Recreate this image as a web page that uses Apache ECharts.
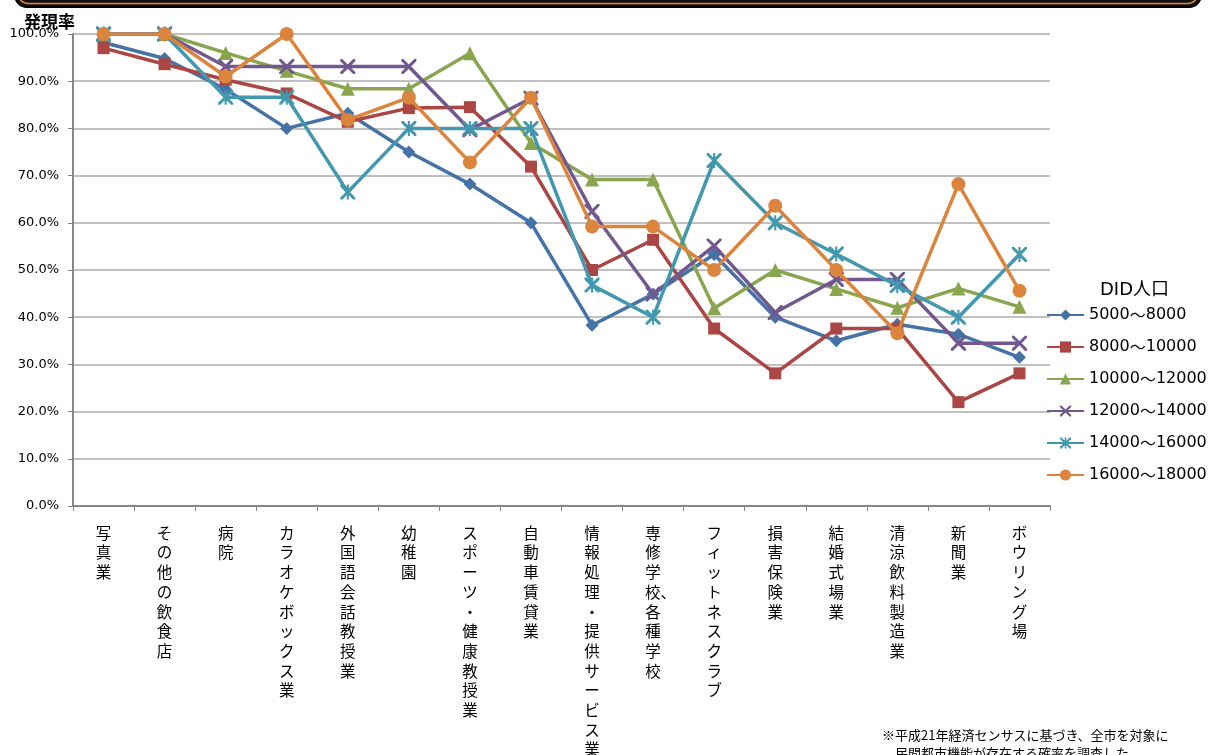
<!DOCTYPE html>
<html>
<head>
<meta charset="utf-8">
<script src="https://cdn.jsdelivr.net/npm/echarts@6/dist/echarts.min.js"></script>
<style>html,body{margin:0;padding:0;background:#fff;}#c{width:1216px;height:755px;}</style>
</head>
<body>
<div id="c"></div>
<script>
var categories = ['写真業','その他の飲食店','病院','カラオケボックス業','外国語会話教授業','幼稚園','スポーツ・健康教授業','自動車賃貸業','情報処理・提供サービス業','専修学校、各種学校','フィットネスクラブ','損害保険業','結婚式場業','清涼飲料製造業','新聞業','ボウリング場'];
var seriesNames = ['5000～8000','8000～10000','10000～12000','12000～14000','14000～16000','16000～18000'];
var s5000 = [98.2, 94.8, 88.3, 80.0, 83.2, 75.0, 68.2, 60.0, 38.3, 44.9, 53.3, 40.0, 35.0, 38.5, 36.4, 31.5];
var s8000 = [97.0, 93.6, 90.3, 87.4, 81.4, 84.3, 84.5, 71.9, 50.0, 56.4, 37.6, 28.1, 37.6, 37.6, 22.0, 28.1];
var s10000 = [100, 100, 96.0, 92.2, 88.4, 88.4, 95.9, 76.9, 69.2, 69.2, 41.9, 50.0, 46.0, 42.0, 46.1, 42.2];
var s12000 = [100, 100, 93.1, 93.1, 93.1, 93.1, 79.7, 86.4, 62.4, 44.9, 55.1, 41.0, 48.0, 48.0, 34.5, 34.5];
var s14000 = [100, 100, 86.6, 86.6, 66.5, 80.0, 80.0, 80.0, 46.8, 40.0, 73.2, 60.0, 53.4, 46.7, 40.0, 53.3];
var s16000 = [100, 100, 91.0, 100, 81.8, 86.5, 72.8, 86.5, 59.2, 59.2, 50.0, 63.6, 50.0, 36.6, 68.2, 45.6];
var yTicks = [0, 10, 20, 30, 40, 50, 60, 70, 80, 90, 100];

var colors = ['#4572A7','#AA4643','#89A54E','#71588F','#4198AF','#DB843D'];
var xPath = 'path://M0,0 L1.4,0 L10,8.6 L10,10 L8.6,10 L0,1.4 Z M10,0 L10,1.4 L1.4,10 L0,10 L0,8.6 L8.6,0 Z';
var starPath = 'path://M0,0 L1.4,0 L10,8.6 L10,10 L8.6,10 L0,1.4 Z M10,0 L10,1.4 L1.4,10 L0,10 L0,8.6 L8.6,0 Z M4.3,0 L5.7,0 L5.7,10 L4.3,10 Z';
var symbols = ['diamond','rect','triangle',xPath,starPath,'circle'];
var sizes = [13, 12, 14, 15, 15, 14];
var dataList = [s5000, s8000, s10000, s12000, s14000, s16000];

var chart = echarts.init(document.getElementById('c'), null, {renderer:'canvas'});
var series = dataList.map(function(d, i){
  return {
    name: seriesNames[i], type: 'line', data: d,
    symbol: symbols[i], symbolSize: sizes[i], showAllSymbol: true,
    lineStyle: {color: colors[i], width: 3.5},
    itemStyle: {color: colors[i]},
    z: 2 + i
  };
});
var jp = '"Noto Sans CJK JP", sans-serif';
var num = '"DejaVu Sans", sans-serif';
chart.setOption({
  animation: false,
  color: colors,
  title: {text: '発現率', left: 19, top: 8, textStyle: {fontFamily: jp, fontSize: 17, fontWeight: 'bold', color: '#000'}},
  grid: {left: 73, right: 166, top: 34, bottom: 249, containLabel: false, outerBoundsMode: 'none'},
  legend: {
    orient: 'vertical', left: 1041, top: 302, itemWidth: 37, itemHeight: 14, itemGap: 16,
    data: seriesNames,
    formatter: function(n){
      var p = n.split('～');
      return '{a|' + p[0] + '}{w|～}{a|' + p[1] + '}';
    },
    textStyle: {color: '#000', rich: {
      a: {fontFamily: num, fontSize: 16, color: '#000'},
      w: {fontFamily: jp, fontSize: 16, color: '#000'}
    }}
  },
  xAxis: {
    type: 'category', data: categories, boundaryGap: true,
    axisLine: {lineStyle: {color: '#868686', width: 2}},
    axisTick: {show: true, length: 5, lineStyle: {color: '#868686', width: 1}},
    axisLabel: {
      interval: 0, margin: 17, verticalAlign: 'top', color: '#000',
      fontFamily: jp, fontSize: 15.5, lineHeight: 19.7,
      rich: {c: {fontFamily: jp, fontSize: 15.5, lineHeight: 19.7, color: '#000', padding: [0, 0, 0, 15]}},
      formatter: function(v){
        var arr = [];
        for (var k = 0; k < v.length; k++) {
          var ch = v[k];
          if (ch === '、' && arr.length) { arr[arr.length-1] = '{c|' + arr[arr.length-1] + ch + '}'; } else { arr.push(ch); }
        }
        return arr.join('\n');
      }
    }
  },
  yAxis: {
    type: 'value', min: 0, max: 100, interval: 10,
    axisLine: {show: true, lineStyle: {color: '#868686', width: 2}},
    axisTick: {show: true, length: 5, lineStyle: {color: '#868686'}},
    axisLabel: {margin: 14, color: '#000', fontFamily: num, fontSize: 13,
      formatter: function(v){ return v.toFixed(1) + '%'; }},
    splitLine: {lineStyle: {color: '#ababab', width: 1.5}}
  },
  graphic: [
    {type: 'rect', shape: {x: 15, y: -30, width: 1186, height: 37, r: 12}, style: {fill: '#111', stroke: '#000', lineWidth: 2}, z: 10},
    {type: 'rect', shape: {x: 18, y: -30, width: 1180, height: 33.5, r: 10}, style: {fill: 'none', stroke: '#E0873C', lineWidth: 1.5}, z: 11},
    {type: 'text', left: 1100, top: 281, style: {text: 'DID人口', font: '18px "DejaVu Sans", "Noto Sans CJK JP", sans-serif', fill: '#000'}},
    {type: 'text', left: 882, top: 726, style: {text: '※平成21年経済センサスに基づき、全市を対象に\n　民間都市機能が存在する確率を調査した', font: '13px "Noto Sans CJK JP", sans-serif', lineHeight: 18, fill: '#000'}}
  ],
  series: series
});
</script>
</body>
</html>
